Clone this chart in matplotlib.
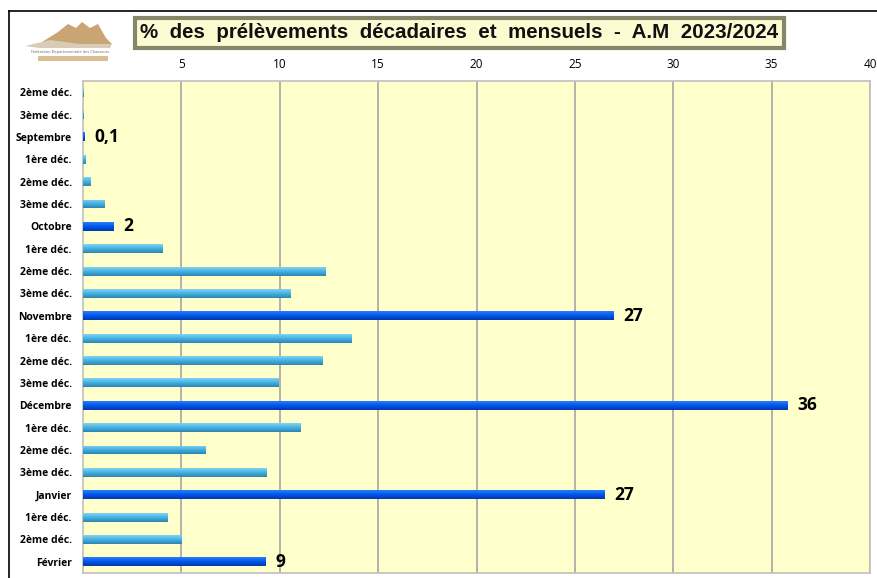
import numpy as np
import matplotlib
matplotlib.use("Agg")
import matplotlib.pyplot as plt
from matplotlib.patches import Polygon, Rectangle
from matplotlib.lines import Line2D
from matplotlib.colors import LinearSegmentedColormap

# data (top to bottom)
labels = ["2ème déc.", "3ème déc.", "Septembre",
          "1ère déc.", "2ème déc.", "3ème déc.", "Octobre",
          "1ère déc.", "2ème déc.", "3ème déc.", "Novembre",
          "1ère déc.", "2ème déc.", "3ème déc.", "Décembre",
          "1ère déc.", "2ème déc.", "3ème déc.", "Janvier",
          "1ère déc.", "2ème déc.", "Février"]
values = [0.05, 0.05, 0.1,
          0.15, 0.37, 1.07, 1.55,
          4.04, 12.35, 10.57, 26.95,
          13.64, 12.15, 9.95, 35.8,
          11.07, 6.21, 9.31, 26.53,
          4.27, 5.0, 9.28]
is_month = [False, False, True,
            False, False, False, True,
            False, False, False, True,
            False, False, False, True,
            False, False, False, True,
            False, False, True]
month_text = {"Septembre": "0,1", "Octobre": "2", "Novembre": "27",
              "Décembre": "36", "Janvier": "27", "Février": "9"}
xticks = [5, 10, 15, 20, 25, 30, 35, 40]

W, H = 877, 578
fig = plt.figure(figsize=(W / 100, H / 100), dpi=100)
fig.patch.set_facecolor("white")

ax = fig.add_axes([83 / W, 1 - 573 / H, (870 - 83) / W, (573 - 81) / H])
ax.set_facecolor("#FFFFCC")

dec_cmap = LinearSegmentedColormap.from_list("dec", ["#7FD4F4", "#45B0E0", "#2B86B4"])
mon_cmap = LinearSegmentedColormap.from_list("mon", ["#2A7BFF", "#0057E8", "#0038B0"])

y = np.arange(len(values))
bars = ax.barh(y, values, height=0.4, color="none", zorder=3)
grad = np.linspace(0, 1, 32).reshape(-1, 1)
for bar, v, m in zip(bars, values, is_month):
    x0, y0 = bar.get_x(), bar.get_y()
    h = bar.get_height()
    im = ax.imshow(grad, extent=[x0, x0 + v, y0 + h, y0], aspect="auto",
                   cmap=mon_cmap if m else dec_cmap, zorder=3, origin="upper")
    im.set_clip_path(bar)

for i, (lab, v, m) in enumerate(zip(labels, values, is_month)):
    if m:
        ax.annotate(month_text[lab], xy=(v, i), xytext=(7, 0), textcoords="offset points",
                    ha="left", va="center", fontsize=12.5, fontweight="bold",
                    family="Open Sans", color="black", zorder=5)

ax.set_xlim(0, 40)
ax.set_ylim(len(values) - 0.5, -0.5)
ax.set_xticks(xticks)
ax.set_xticklabels([str(t) for t in xticks], family="Open Sans", fontsize=8.5)
ax.xaxis.tick_top()
ax.tick_params(axis="x", length=0, pad=7)
ax.set_yticks(y)
ax.set_yticklabels(labels, family="Open Sans", fontsize=7.5, fontweight="bold")
ax.tick_params(axis="y", length=0, pad=8)
ax.grid(axis="x", color="#A6A6A6", linewidth=1.2, zorder=1)
ax.set_axisbelow(True)
for s in ax.spines.values():
    s.set_color("#BFBFBF")
    s.set_linewidth(1.2)

# title box
fig.text(459.5 / W, 1 - 33 / H, "%  des  prélèvements  décadaires  et  mensuels  -  A.M  2023/2024",
         ha="center", va="center", fontsize=14.8, fontweight="bold",
         family="Liberation Sans", color="#111111",
         bbox=dict(boxstyle="square,pad=0.25", facecolor="#FCFBD2",
                   edgecolor="#86866A", linewidth=3))

# outer frame (top and left edges visible)
fig.add_artist(Line2D([9 / W, 1], [1 - 11 / H, 1 - 11 / H], color="black", linewidth=1.2))
fig.add_artist(Line2D([9 / W, 9 / W], [0, 1 - 11 / H], color="black", linewidth=1.2))

# small logo, top-left
logo = fig.add_axes([20 / W, 1 - 64 / H, 95 / W, 50 / H])
logo.set_xlim(0, 95)
logo.set_ylim(50, 0)
logo.axis("off")
logo.add_patch(Polygon([(22, 28), (38, 18), (48, 10), (56, 14), (62, 8), (70, 14),
                        (78, 10), (86, 24), (92, 30), (40, 32)],
                       closed=True, facecolor="#C9A574", edgecolor="none"))
logo.add_patch(Polygon([(5, 32), (30, 26), (60, 30), (92, 30), (90, 34), (20, 34)],
                       closed=True, facecolor="#D8CBB8", edgecolor="none"))
logo.add_patch(Rectangle((18, 42), 70, 5, facecolor="#D9BE93", edgecolor="none"))
logo.text(50, 38, "Fédération Départementale des Chasseurs", fontsize=2.6,
          ha="center", va="center", color="#7a6a50")

fig.savefig("out.png", dpi=100, facecolor="white")
